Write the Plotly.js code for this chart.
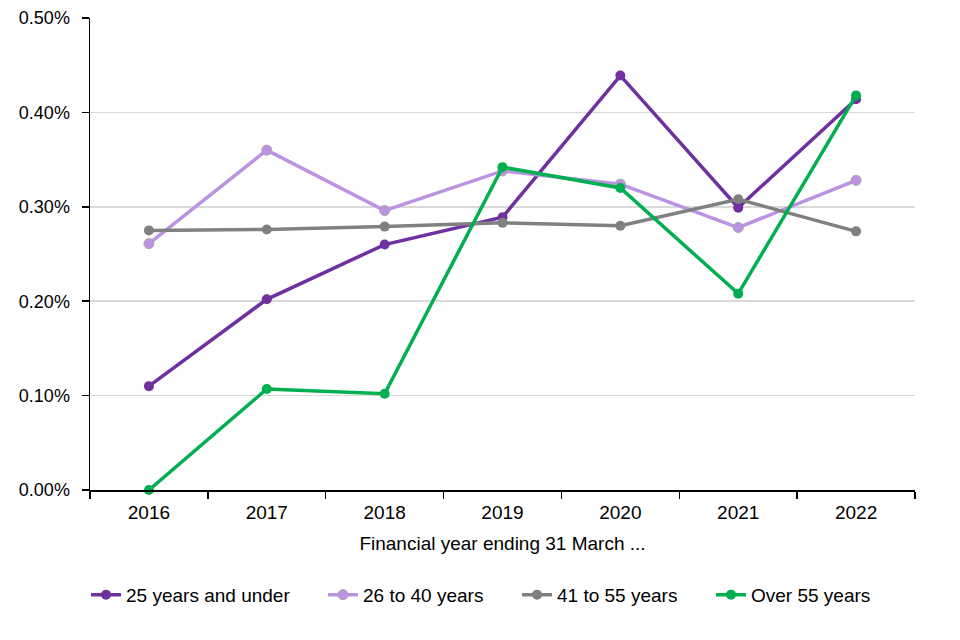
<!DOCTYPE html>
<html>
<head>
<meta charset="utf-8">
<script src="https://cdn.plot.ly/plotly-3.0.1.min.js"></script>
<style>html,body{margin:0;padding:0;background:#fff;}#chart{width:960px;height:640px;}</style>
</head>
<body>
<div id="chart"></div>
<script>
const years = ["2016", "2017", "2018", "2019", "2020", "2021", "2022"];
const under25 = [0.110, 0.202, 0.260, 0.289, 0.439, 0.299, 0.414];
const age26to40 = [0.261, 0.360, 0.296, 0.338, 0.324, 0.278, 0.328];
const age41to55 = [0.275, 0.276, 0.279, 0.283, 0.280, 0.308, 0.274];
const over55 = [0.000, 0.107, 0.102, 0.342, 0.320, 0.208, 0.418];
const seriesNames = ["25 years and under", "26 to 40 years", "41 to 55 years", "Over 55 years"];
const yTicks = [0, 0.1, 0.2, 0.3, 0.4, 0.5];

const colors = ["#7030A0", "#BC93E2", "#808080", "#00B050"];
const markerLines = ["#7030A0", "#A6A6A6", "#808080", "#00B050"];
const legendIds = ["legend", "legend2", "legend3", "legend4"];
const legendX = [-0.0048, 0.2824, 0.5176, 0.7527];

const data = [under25, age26to40, age41to55, over55].map((vals, i) => ({
  type: "scatter",
  mode: "lines+markers",
  x: years,
  y: vals,
  name: seriesNames[i],
  legend: legendIds[i],
  line: {color: colors[i], width: 3.5},
  marker: {color: colors[i], size: 10, line: {color: markerLines[i], width: i === 1 ? 1 : 0}},
  cliponaxis: false
}));

const layout = {
  width: 960,
  height: 640,
  margin: {l: 90, r: 45, t: 18, b: 150},
  paper_bgcolor: "#fff",
  plot_bgcolor: "#fff",
  font: {family: "Liberation Sans, Arial, sans-serif", size: 18, color: "#000"},
  showlegend: true,
  xaxis: {
    type: "category",
    range: [-0.5, 6.5],
    showline: true,
    linecolor: "#000",
    linewidth: 1.5,
    ticks: "outside",
    tickson: "boundaries",
    ticklen: 7,
    tickcolor: "#000",
    tickwidth: 1.5,
    showgrid: false,
    zeroline: false,
    tickfont: {size: 19},
    ticklabelstandoff: 5,
    title: {text: "Financial year ending 31 March ...", font: {size: 19}, standoff: 14}
  },
  yaxis: {
    range: [0, 0.5],
    tickvals: yTicks,
    ticktext: yTicks.map(v => v.toFixed(2) + "%"),
    showline: true,
    linecolor: "#000",
    linewidth: 1.5,
    ticks: "outside",
    ticklen: 7,
    tickcolor: "#000",
    tickwidth: 1.5,
    showgrid: true,
    gridcolor: "#D9D9D9",
    gridwidth: 1.5,
    zeroline: false,
    tickfont: {size: 18},
    ticklabelstandoff: 8
  }
};

legendIds.forEach((id, i) => {
  layout[id] = {
    orientation: "h",
    x: legendX[i], xanchor: "left",
    y: -0.222, yanchor: "middle",
    font: {size: 19, color: "#000"},
    itemwidth: 30,
    bgcolor: "rgba(0,0,0,0)"
  };
});

Plotly.newPlot("chart", data, layout, {displayModeBar: false, staticPlot: true});
</script>
</body>
</html>
